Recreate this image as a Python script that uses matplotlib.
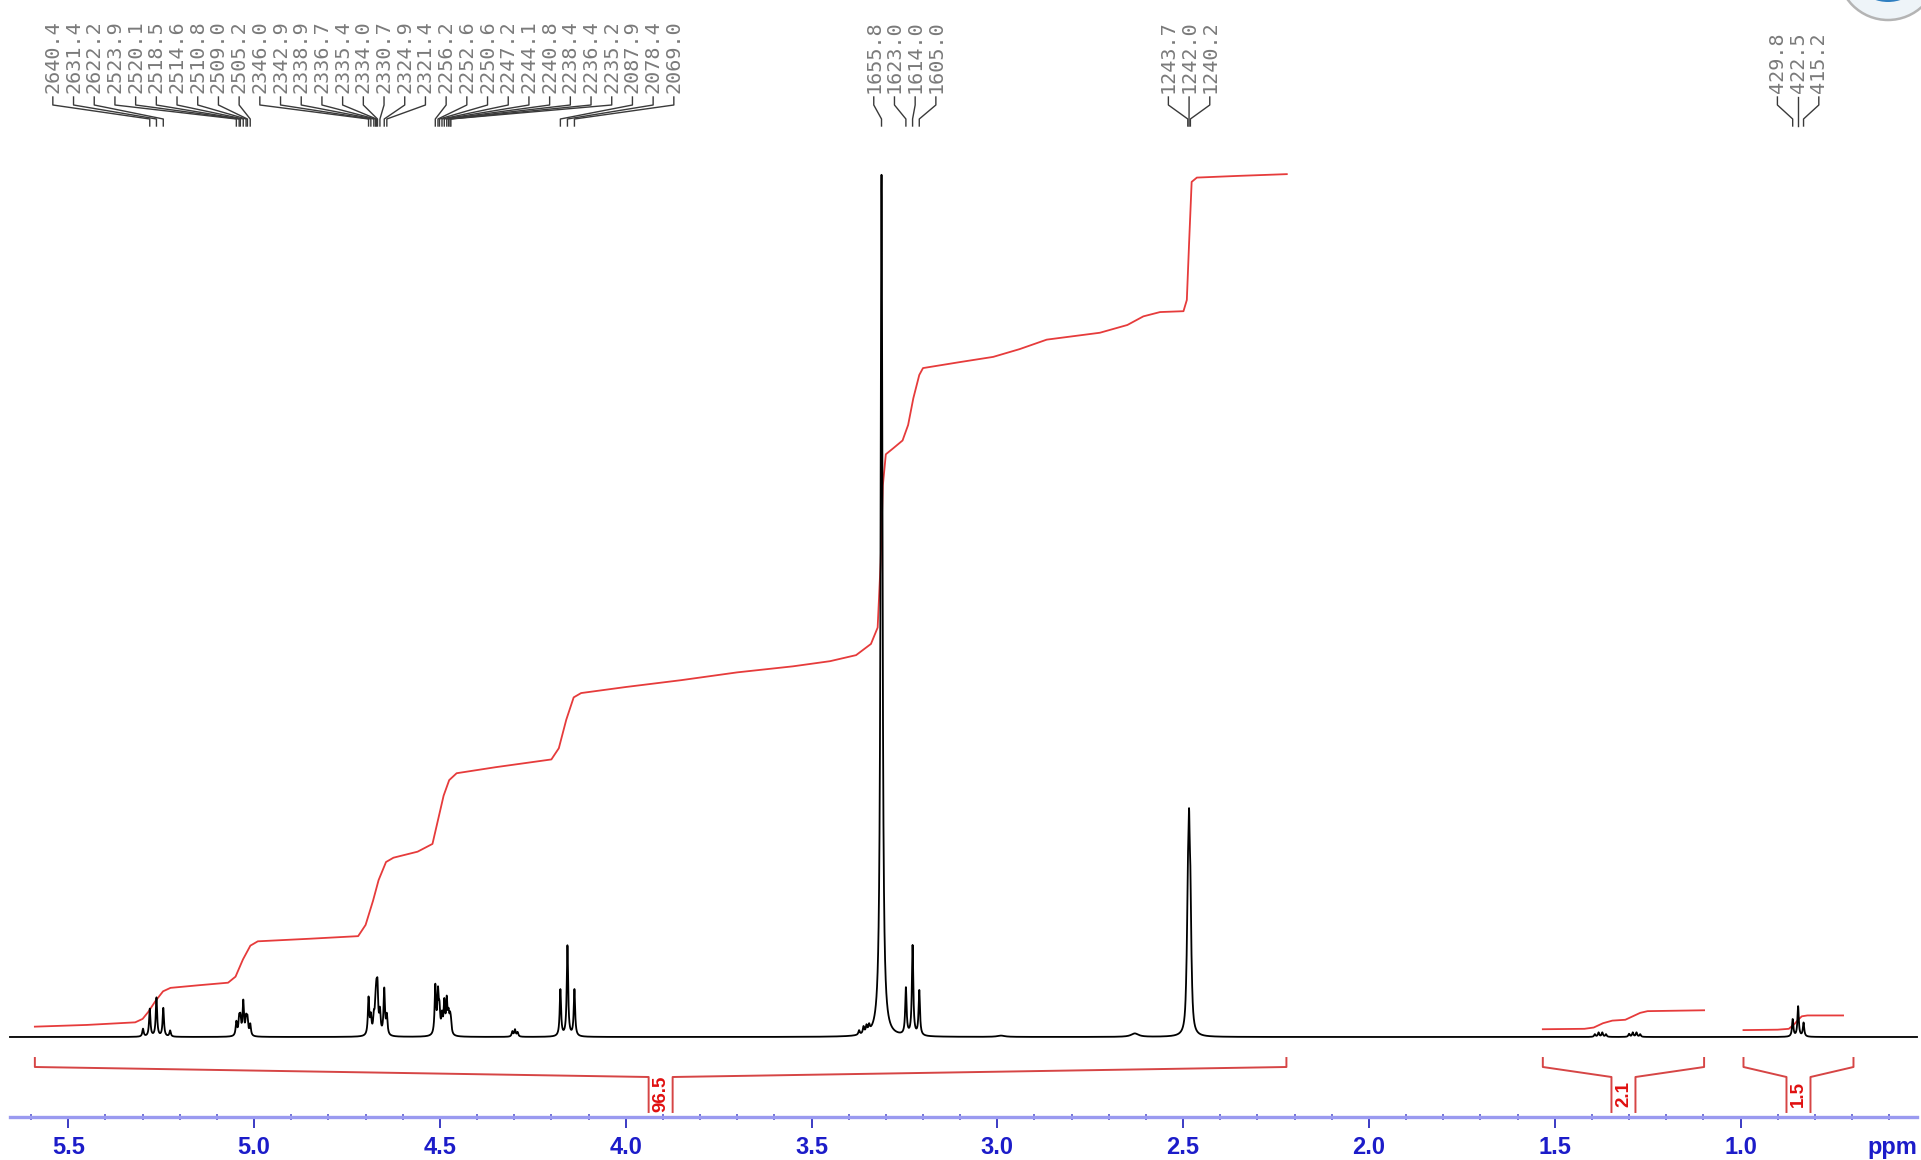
import numpy as np
import matplotlib
matplotlib.use("Agg")
import matplotlib.pyplot as plt
from matplotlib.patches import Circle
from matplotlib.ticker import MultipleLocator, FormatStrFormatter

plt.rcParams['font.family'] = ['Liberation Sans', 'DejaVu Sans']

# ---------------- data ----------------
SF_MHZ = 500.0

# spectrum lines (ppm, height in arbitrary units, water = 100)
m526_ppm = [5.2990, 5.2808, 5.2628, 5.2444, 5.2260]
m526_h = [0.9, 3.2, 4.5, 3.3, 0.7]
m503_ppm = [5.0478, 5.0402, 5.0370, 5.0292, 5.0216, 5.0180, 5.0104]
m503_h = [1.6, 1.8, 1.8, 3.9, 1.8, 1.8, 1.3]
m467_ppm = [4.6920, 4.6858, 4.6778, 4.6734, 4.6708, 4.6680, 4.6614, 4.6498, 4.6428]
m467_h = [4.3, 2.0, 1.8, 2.5, 3.5, 4.6, 2.5, 5.3, 2.2]
m450_ppm = [4.5124, 4.5052, 4.5012, 4.4944, 4.4882, 4.4816, 4.4768, 4.4728, 4.4704]
m450_h = [5.6, 4.6, 2.6, 2.0, 3.6, 3.8, 2.0, 1.6, 1.2]
m430_ppm = [4.305, 4.298, 4.291]
m430_h = [0.6, 0.8, 0.5]
m416_ppm = [4.1758, 4.1568, 4.1380]
m416_h = [5.4, 10.5, 5.4]
m335_ppm = [3.372, 3.360, 3.352, 3.345]
m335_h = [0.5, 0.8, 0.8, 0.7]
water_ppm = [3.3116]
water_h = [100.0]
m323_ppm = [3.2460, 3.2280, 3.2100]
m323_h = [5.4, 10.4, 5.2]
bump_ppm = [2.990, 2.630]
bump_h = [0.15, 0.4]
dmso_ppm = [2.4910, 2.4874, 2.4840, 2.4804, 2.4770]
dmso_h = [1.5, 11.5, 18.0, 11.5, 1.5]
m137_ppm = [1.392, 1.382, 1.372, 1.362, 1.300, 1.290, 1.280, 1.270]
m137_h = [0.3, 0.5, 0.5, 0.3, 0.35, 0.5, 0.5, 0.3]
m085_ppm = [0.8596, 0.8450, 0.8304]
m085_h = [2.0, 3.5, 1.6]

# integral curves (ppm, level)
int_main_ppm = [5.590, 5.450, 5.320, 5.300, 5.285, 5.265, 5.245, 5.225, 5.150, 5.070,
                5.050, 5.030, 5.010, 4.990, 4.850, 4.720, 4.700, 4.680, 4.665, 4.645,
                4.625, 4.560, 4.520, 4.505, 4.490, 4.475, 4.455, 4.350, 4.200, 4.180,
                4.160, 4.140, 4.120, 4.000, 3.850, 3.700, 3.550, 3.450, 3.380, 3.340,
                3.322, 3.314, 3.308, 3.300, 3.280, 3.255, 3.240, 3.226, 3.210, 3.200,
                3.100, 3.011, 2.940, 2.867, 2.724, 2.650, 2.607, 2.562, 2.499, 2.490,
                2.484, 2.477, 2.463, 2.350, 2.221]
int_main_val = [1.2, 1.4, 1.7, 2.1, 2.9, 4.2, 5.3, 5.7, 6.0, 6.3,
                7.0, 9.0, 10.6, 11.1, 11.4, 11.7, 13.0, 15.8, 18.2, 20.3,
                20.8, 21.5, 22.4, 25.2, 28.0, 29.8, 30.6, 31.3, 32.2, 33.5,
                36.8, 39.4, 39.9, 40.6, 41.4, 42.3, 43.0, 43.6, 44.3, 45.6,
                47.5, 55.0, 64.0, 67.6, 68.3, 69.2, 71.0, 74.1, 76.8, 77.6,
                78.3, 78.9, 79.8, 80.9, 81.7, 82.6, 83.6, 84.1, 84.2, 85.5,
                92.0, 99.2, 99.7, 99.9, 100.1]
int_b_ppm = [1.532, 1.420, 1.395, 1.370, 1.345, 1.310, 1.290, 1.270, 1.250, 1.098]
int_b_val = [0.9, 0.95, 1.1, 1.6, 1.9, 2.0, 2.4, 2.8, 3.0, 3.1]
int_c_ppm = [0.992, 0.900, 0.870, 0.855, 0.845, 0.835, 0.820, 0.724]
int_c_val = [0.8, 0.85, 0.95, 1.5, 2.0, 2.4, 2.5, 2.5]

# integration ranges and values
int_ranges = [(5.590, 2.222), (1.532, 1.098), (0.992, 0.696)]
int_values = ["96.5", "2.1", "1.5"]

# peak labels (Hz), by group
label_groups = [
    [2640.4, 2631.4, 2622.2, 2523.9, 2520.1, 2518.5, 2514.6, 2510.8, 2509.0, 2505.2,
     2346.0, 2342.9, 2338.9, 2336.7, 2335.4, 2334.0, 2330.7, 2324.9, 2321.4,
     2256.2, 2252.6, 2250.6, 2247.2, 2244.1, 2240.8, 2238.4, 2236.4, 2235.2,
     2087.9, 2078.4, 2069.0],
    [1655.8, 1623.0, 1614.0, 1605.0],
    [1243.7, 1242.0, 1240.2],
    [429.8, 422.5, 415.2],
]

# ---------------- figure ----------------
W, H = 1921, 1160
fig = plt.figure(figsize=(W / 100, H / 100), dpi=100)
AXIS_Y = 1117
BASE_Y = 1037
PX_PER_UNIT = 8.62
ax = fig.add_axes([0, (H - AXIS_Y) / H, 1, AXIS_Y / H])
ax.set_xlim(5.6838, 0.5143)
ax.set_ylim((BASE_Y - AXIS_Y) / PX_PER_UNIT, BASE_Y / PX_PER_UNIT)
ax.patch.set_visible(False)

all_ppm = np.array(m526_ppm + m503_ppm + m467_ppm + m450_ppm + m430_ppm + m416_ppm +
                   m335_ppm + water_ppm + m323_ppm + bump_ppm + dmso_ppm + m137_ppm + m085_ppm)
all_h = np.array(m526_h + m503_h + m467_h + m450_h + m430_h + m416_h +
                 m335_h + water_h + m323_h + bump_h + dmso_h + m137_h + m085_h)
widths = np.full(len(all_ppm), 0.0022)
iw = len(m526_ppm + m503_ppm + m467_ppm + m450_ppm + m430_ppm + m416_ppm + m335_ppm)
widths[iw] = 0.0030
bstart = iw + 1 + len(m323_ppm)
widths[bstart:bstart + 2] = 0.012
dstart = bstart + 2
widths[dstart:dstart + 5] = 0.0026

x = np.linspace(5.657, 0.525, 40000)
spec = np.zeros_like(x)
for p, h, w in zip(all_ppm, all_h, widths):
    spec += h / (1.0 + ((x - p) / w) ** 2)
ax.plot(x, spec, color='black', lw=1.3, zorder=3)

red = '#e63b3b'
ax.plot(int_main_ppm, int_main_val, color=red, lw=1.3, zorder=2)
ax.plot(int_b_ppm, int_b_val, color=red, lw=1.3, zorder=2)
ax.plot(int_c_ppm, int_c_val, color=red, lw=1.3, zorder=2)

# axis styling
for s in ['top', 'left', 'right']:
    ax.spines[s].set_visible(False)
ax.spines['bottom'].set_color('#9a9af0')
ax.spines['bottom'].set_linewidth(2.4)
ax.spines['bottom'].set_bounds(5.657, 0.525)
ax.set_yticks([])
ax.xaxis.set_major_locator(MultipleLocator(0.5))
ax.xaxis.set_minor_locator(MultipleLocator(0.1))
ax.xaxis.set_major_formatter(FormatStrFormatter('%.1f'))
ax.tick_params(axis='x', which='major', direction='out', length=8, width=1.4,
               color='#3b3bc4', labelsize=17, labelcolor='#1c1cc9', pad=6)
ax.tick_params(axis='x', which='minor', direction='inout', length=5, width=1.2,
               color='#5a5ad0')
for lbl in ax.get_xticklabels():
    lbl.set_fontweight('bold')

# overlay in pixel coordinates (y from top)
lay = fig.add_axes([0, 0, 1, 1])
lay.set_xlim(0, W)
lay.set_ylim(H, 0)
lay.axis('off')
lay.patch.set_visible(False)


def px(ppm):
    return ax.transData.transform([[ppm, 0]])[0][0]


lay.text(px(0.592), 1154, 'ppm', ha='center', va='baseline', fontsize=17,
         fontweight='bold', color='#1c1cc9')

# integration brackets
bcol = '#d64545'
for (p0, p1), val in zip(int_ranges, int_values):
    x0, x1 = px(p0), px(p1)
    xm = px((p0 + p1) / 2)
    hw = 12
    lay.plot([x0, x0, xm - hw, xm - hw], [1058, 1067, 1077, 1112], color=bcol, lw=1.4)
    lay.plot([x1, x1, xm + hw, xm + hw], [1058, 1067, 1077, 1112], color=bcol, lw=1.4)
    lay.text(xm, 1094, val, rotation=90, ha='center', va='center', fontsize=13.5,
             fontweight='bold', color='#e01010')

# peak labels
SPACING = 20.7
for grp in label_groups:
    P = [px(hz / SF_MHZ) for hz in grp]
    c = np.mean(P)
    n = len(grp)
    for i, (hz, pp) in enumerate(zip(grp, P)):
        L = c + (i - (n - 1) / 2) * SPACING
        lay.plot([L, L, pp, pp], [97, 105, 119, 126], color='#3a3a3a', lw=1.0)
        lay.text(L, 93, f"{hz:.1f}", rotation=90, ha='center', va='bottom',
                 fontsize=14.5, color='#7a7a7a', family='DejaVu Sans Mono')

# logo fragment at top-right corner
lay.add_patch(Circle((1888, -30), 50, fc='#eef4f8', ec='#b4b4b4', lw=1.8))
lay.add_patch(Circle((1888, -38), 40, fc='#2f7fc1', ec='none'))

fig.savefig('out.png', dpi=100)
